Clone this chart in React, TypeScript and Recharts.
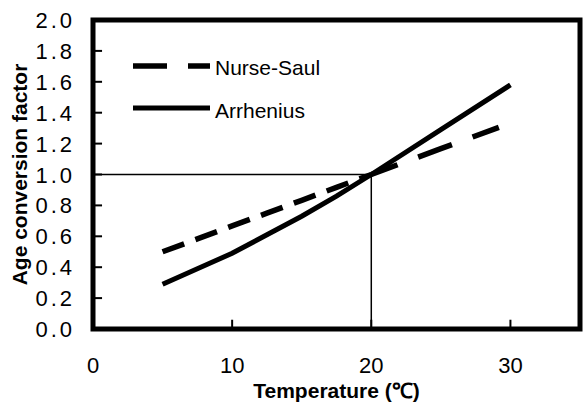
import React from "react";
import * as Recharts from "recharts";
import {
  LineChart,
  Line,
  XAxis,
  YAxis,
  ReferenceLine,
  Legend,
  Label,
} from "recharts";

const temperatures = [5, 7.5, 10, 12.5, 15, 17.5, 20, 25, 30];
const nurseSaul = [0.5, 0.583, 0.667, 0.75, 0.833, 0.917, 1.0, 1.167, 1.333];
const arrhenius = [0.29, 0.39, 0.49, 0.61, 0.73, 0.86, 1.0, 1.29, 1.58];
const xTicks = [0, 10, 20, 30];
const yTicks = [0, 0.2, 0.4, 0.6, 0.8, 1.0, 1.2, 1.4, 1.6, 1.8, 2.0];

// the dashed curve is drawn with shorter dashes below 20 ℃ than above it
const data = temperatures.map((t, i) => ({
  temperature: t,
  nurseSaulLow: t <= 20 ? nurseSaul[i] : null,
  nurseSaulHigh: t >= 20 ? nurseSaul[i] : null,
  arrhenius: arrhenius[i],
}));

const font = "Arial, 'Liberation Sans', sans-serif";

// thick frame round the plot area
const Frame = () => {
  const hook: any = (Recharts as any).usePlotArea;
  const area = hook ? hook() : null;
  if (!area) return null;
  return (
    <rect
      x={area.x}
      y={area.y}
      width={area.width}
      height={area.height}
      fill="none"
      stroke="#000"
      strokeWidth={5}
    />
  );
};

const XTick = (props: any) => {
  const { x, y, payload } = props;
  return (
    <text x={x} y={y + 24} textAnchor="middle" fontSize={22} fill="#000" fontFamily={font}>
      {payload.value}
    </text>
  );
};

const YTick = (props: any) => {
  const { x, y, payload } = props;
  return (
    <text
      x={x + 3}
      y={y + 8}
      textAnchor="end"
      fontSize={22}
      letterSpacing={3}
      fill="#000"
      fontFamily={font}
    >
      {Number(payload.value).toFixed(1)}
    </text>
  );
};

const LegendBox = () => (
  <svg width={220} height={85} style={{ fontFamily: font }}>
    <line x1={3} x2={80} y1={21} y2={21} stroke="#000" strokeWidth={5.5} strokeDasharray="34 21" />
    <text x={85} y={30} fontSize={21} fill="#000">Nurse-Saul</text>
    <line x1={3} x2={80} y1={63} y2={63} stroke="#000" strokeWidth={5} />
    <text x={85} y={73} fontSize={21} fill="#000">Arrhenius</text>
  </svg>
);

const App = () => {
  return (
    <div style={{ position: "absolute", left: 0, top: 0 }}>
      <LineChart
        width={583}
        height={403}
        data={data}
        margin={{ top: 20, right: 3, bottom: 24, left: 13 }}
        style={{ fontFamily: font }}
      >
        <XAxis
          dataKey="temperature"
          type="number"
          domain={[0, 35]}
          ticks={xTicks}
          tickSize={0}
          tickMargin={20}
          axisLine={false}
          tickLine={false}
          tick={<XTick />}
          height={50}
        >
          <Label
            value="Temperature (℃)"
            position="insideBottom"
            offset={-19}
            fontSize={21}
            fontWeight="bold"
            fill="#000"
          />
        </XAxis>
        <YAxis
          type="number"
          domain={[0, 2]}
          ticks={yTicks}
          tickSize={0}
          tickMargin={21}
          axisLine={false}
          tickLine={false}
          tick={<YTick />}
          width={80}
        >
          <Label
            value="Age conversion factor"
            angle={-90}
            position="insideLeft"
            offset={7}
            fontSize={21}
            fontWeight="bold"
            fill="#000"
            style={{ textAnchor: "middle" }}
          />
        </YAxis>
        {/* inward tick marks */}
        {yTicks.slice(1, -1).map((t) => (
          <ReferenceLine
            key={`yt${t}`}
            segment={[{ x: 0, y: t }, { x: 0.65, y: t }]}
            stroke="#000"
            strokeWidth={2}
          />
        ))}
        {xTicks.slice(1).map((t) => (
          <ReferenceLine
            key={`xt${t}`}
            segment={[{ x: t, y: 0 }, { x: t, y: 0.06 }]}
            stroke="#000"
            strokeWidth={2}
          />
        ))}
        <ReferenceLine
          segment={[{ x: 0, y: 1 }, { x: 20, y: 1 }]}
          stroke="#000"
          strokeWidth={1.5}
        />
        <ReferenceLine
          segment={[{ x: 20, y: 0 }, { x: 20, y: 1 }]}
          stroke="#000"
          strokeWidth={1.5}
        />
        <Legend
          layout="vertical"
          align="center"
          verticalAlign="middle"
          wrapperStyle={{ top: 45, left: 130, width: 220 }}
          content={() => <LegendBox />}
        />
        <Line
          type="linear"
          dataKey="nurseSaulLow"
          name="Nurse-Saul"
          stroke="#000"
          strokeWidth={5.5}
          strokeDasharray="23 12"
          dot={false}
          isAnimationActive={false}
        />
        <Line
          type="linear"
          dataKey="nurseSaulHigh"
          name="Nurse-Saul"
          stroke="#000"
          strokeWidth={5.5}
          strokeDasharray="28 22 36 22"
          dot={false}
          isAnimationActive={false}
        />
        <Line
          type="linear"
          dataKey="arrhenius"
          name="Arrhenius"
          stroke="#000"
          strokeWidth={5}
          dot={false}
          isAnimationActive={false}
        />
        <Frame />
      </LineChart>
    </div>
  );
};

export default App;
